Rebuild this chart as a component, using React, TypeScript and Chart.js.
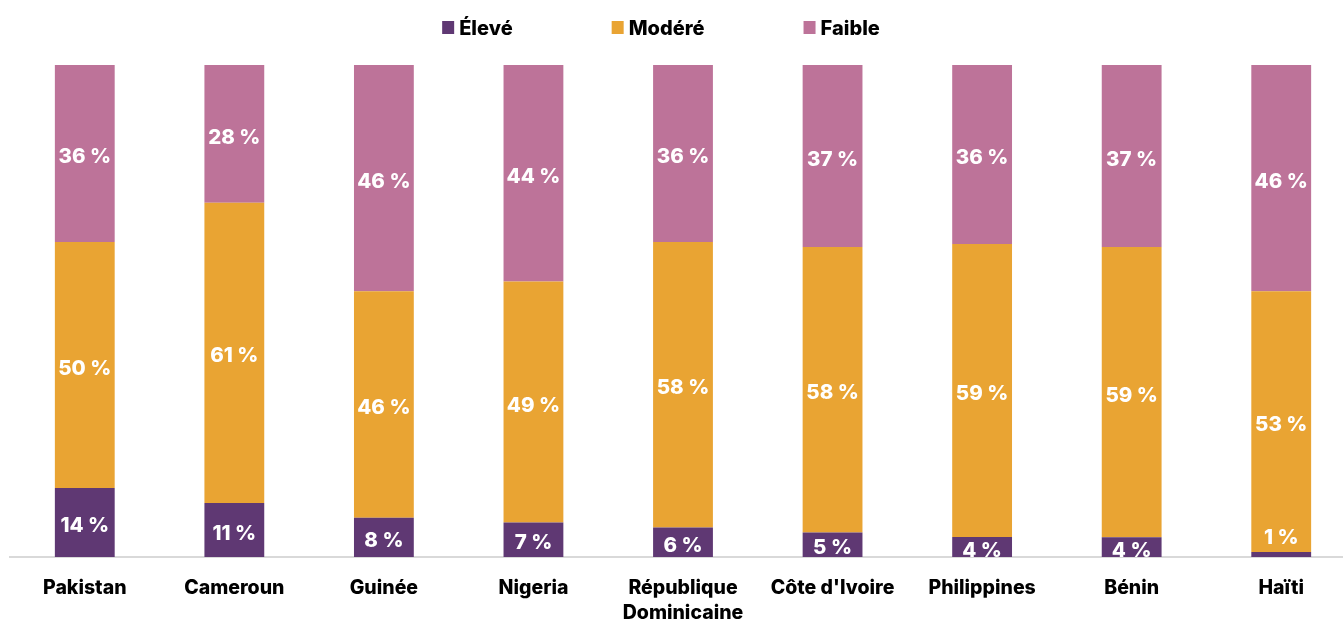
import React, { useEffect, useRef } from "react";
import { Chart, registerables } from "chart.js";

Chart.register(...registerables);

const categories: (string | string[])[] = [
  "Pakistan",
  "Cameroun",
  "Guinée",
  "Nigeria",
  ["République", "Dominicaine"],
  "Côte d'Ivoire",
  "Philippines",
  "Bénin",
  "Haïti",
];
const eleve = [14, 11, 8, 7, 6, 5, 4, 4, 1];
const modere = [50, 61, 46, 49, 58, 58, 59, 59, 53];
const faible = [36, 28, 46, 44, 36, 37, 36, 37, 46];
const seriesNames = ["Élevé", "Modéré", "Faible"];
const seriesColors = ["#5f3873", "#e9a433", "#bd7399"];

const FONT = "Inter, 'Open Sans', sans-serif";

const rawSeries = [eleve, modere, faible];
const totals = categories.map((_, i) => eleve[i] + modere[i] + faible[i]);

const labelPlugin = {
  id: "segLabels",
  afterDatasetsDraw(chart: any) {
    const ctx = chart.ctx;
    ctx.save();
    ctx.font = `800 20.5px ${FONT}`;
    ctx.fillStyle = "#ffffff";
    ctx.textAlign = "center";
    ctx.textBaseline = "middle";
    chart.data.datasets.forEach((ds: any, di: number) => {
      const meta = chart.getDatasetMeta(di);
      meta.data.forEach((bar: any, j: number) => {
        const p = bar.getProps(["x", "y", "base"], true);
        const top = Math.min(p.y, p.base);
        const bottom = Math.max(p.y, p.base);
        const h = bottom - top;
        let cy = (top + bottom) / 2 + 3.5;
        if (h < 12) cy = top - 14;
        ctx.fillText(`${ds.raw[j]} %`, p.x, cy);
      });
    });
    ctx.restore();
  },
};

const legendPlugin = {
  id: "customLegend",
  afterDraw(chart: any) {
    const ctx = chart.ctx;
    ctx.save();
    ctx.font = `800 20px ${FONT}`;
    ctx.textBaseline = "middle";
    ctx.textAlign = "left";
    const box = 12;
    const boxGap = 5;
    const itemGap = 99;
    const widths = seriesNames.map((n) => box + boxGap + ctx.measureText(n).width);
    const total = widths.reduce((a, b) => a + b, 0) + itemGap * (widths.length - 1);
    let x = 661 - total / 2;
    const cy = 27.5;
    seriesNames.forEach((n, i) => {
      ctx.fillStyle = seriesColors[i];
      ctx.fillRect(x, cy - 6.5, box, 13);
      ctx.fillStyle = "#000000";
      ctx.fillText(n, x + box + boxGap, cy + 1.5);
      x += widths[i] + itemGap;
    });
    ctx.restore();
  },
};

export default function App() {
  const ref = useRef<HTMLCanvasElement | null>(null);

  useEffect(() => {
    if (!ref.current) return;
    const chart = new Chart(ref.current, {
      type: "bar",
      data: {
        labels: categories as any,
        datasets: rawSeries.map((vals, i) => ({
          label: seriesNames[i],
          data: vals.map((v, j) => (v / totals[j]) * 100),
          raw: vals,
          backgroundColor: seriesColors[i],
          borderWidth: 0,
          barPercentage: 0.4,
          categoryPercentage: 1,
        })) as any,
      },
      options: {
        responsive: false,
        animation: false,
        layout: { padding: { top: 65, left: 10, right: 2, bottom: 0 } },
        plugins: {
          legend: { display: false },
          tooltip: { enabled: false },
        },
        scales: {
          x: {
            stacked: true,
            grid: { display: false, drawTicks: false },
            border: { display: true, color: "#d9d9d9", width: 2 },
            ticks: {
              color: "#000000",
              font: { family: FONT, size: 19.5, weight: "800", lineHeight: 1.28 },
              padding: 19,
              maxRotation: 0,
              autoSkip: false,
            },
            afterFit: (s: any) => {
              s.height = 64;
            },
          },
          y: { stacked: true, display: false, min: 0, max: 100 },
        },
      },
      plugins: [labelPlugin, legendPlugin],
    });
    return () => chart.destroy();
  }, []);

  return (
    <div
      style={{
        position: "fixed",
        left: 0,
        top: 0,
        width: "100vw",
        height: "100vh",
        overflow: "hidden",
        background: "#ffffff",
      }}
    >
      <canvas ref={ref} width={1358} height={621} style={{ display: "block" }} />
    </div>
  );
}
